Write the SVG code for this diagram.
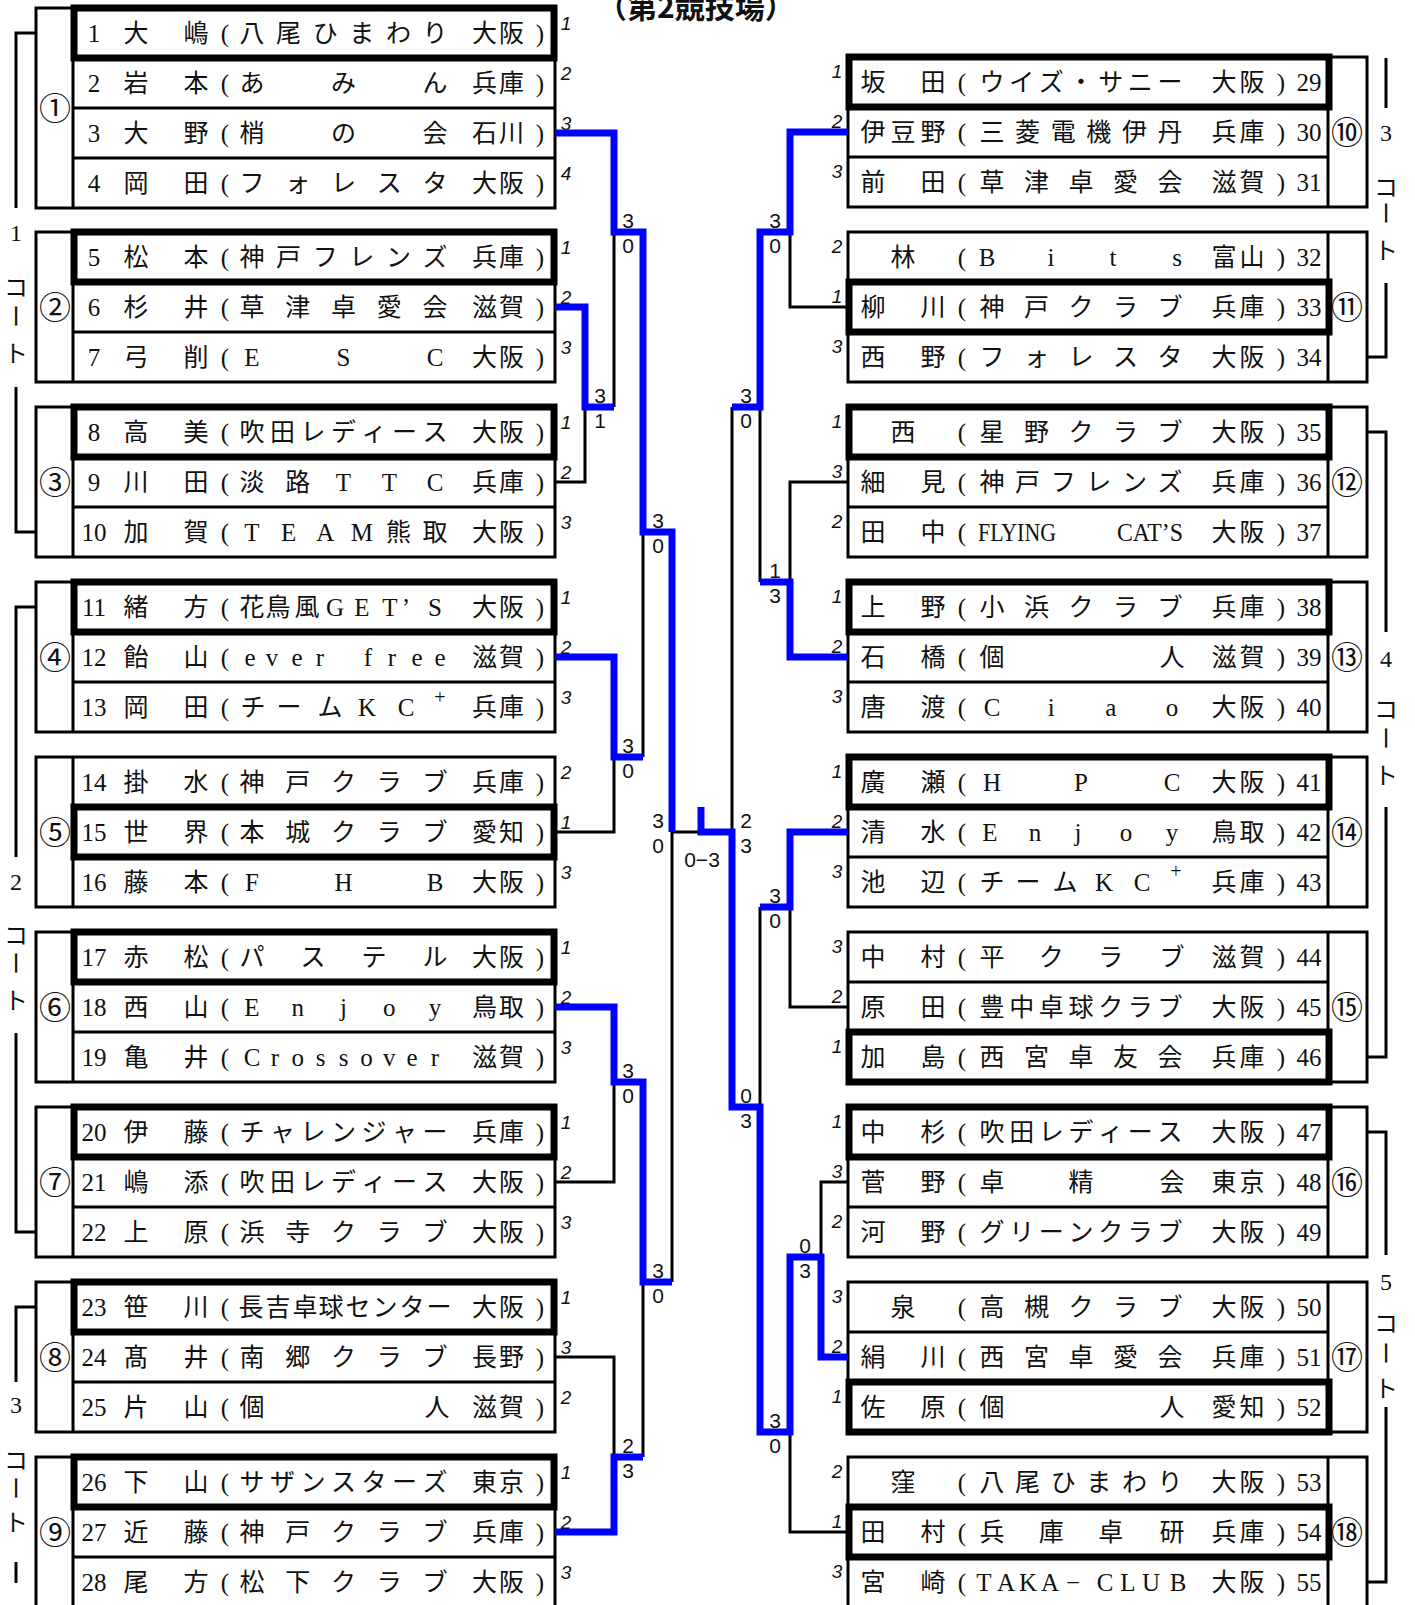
<svg xmlns="http://www.w3.org/2000/svg" width="1415" height="1605" viewBox="0 0 1415 1605">
<style>
.bx{fill:none;stroke:#000;stroke-width:3}
.sd{fill:none;stroke:#000;stroke-width:7}
.ln{fill:none;stroke:#000;stroke-width:3}
.wn{fill:none;stroke:#0000ff;stroke-width:7}
.t{font-family:"Liberation Serif","Noto Sans CJK JP",serif;font-size:25px;fill:#111;text-anchor:middle}
.ct{font-family:"Liberation Serif","Noto Sans CJK JP",serif;font-size:24px;fill:#111;text-anchor:middle}
.rk{font-family:"Liberation Sans",sans-serif;font-size:19px;font-style:italic;fill:#111;text-anchor:middle}
.sc{font-family:"Liberation Sans",sans-serif;font-size:21px;fill:#111;text-anchor:middle}
.cn{font-family:"Noto Sans CJK JP",sans-serif;font-size:32px;fill:#111;text-anchor:middle}
.ti{font-family:"Noto Sans CJK JP",sans-serif;font-size:30px;font-weight:700;fill:#111}
.sp{font-size:20px}
</style>
<rect width="1415" height="1605" fill="#fff"/>
<text class="ti" x="597" y="18">（第2競技場）</text>

<!-- courts -->
<g id="courts">
<path class="ln" d="M36 33H16V208M16 387V532H36"/>
<text class="ct" x="16" y="241">1</text><text class="ct" x="16" y="296">コ</text><text class="ct" transform="translate(16,316) rotate(90)" x="0" y="9">ー</text><text class="ct" x="16" y="362">ト</text>
<path class="ln" d="M36 607H16V857M16 1033V1232H36"/>
<text class="ct" x="16" y="890">2</text><text class="ct" x="16" y="944">コ</text><text class="ct" transform="translate(16,963) rotate(90)" x="0" y="9">ー</text><text class="ct" x="16" y="1009">ト</text>
<path class="ln" d="M36 1307H16V1382M16 1562V1583"/>
<text class="ct" x="16" y="1413">3</text><text class="ct" x="16" y="1469">コ</text><text class="ct" transform="translate(16,1488) rotate(90)" x="0" y="9">ー</text><text class="ct" x="16" y="1531">ト</text>
<path class="ln" d="M1386 58V108M1386 283V357H1367"/>
<text class="ct" x="1386" y="141">3</text><text class="ct" x="1386" y="196">コ</text><text class="ct" transform="translate(1386,213) rotate(90)" x="0" y="9">ー</text><text class="ct" x="1386" y="259">ト</text>
<path class="ln" d="M1367 432H1386V632M1386 807V1057H1367"/>
<text class="ct" x="1386" y="667">4</text><text class="ct" x="1386" y="718">コ</text><text class="ct" transform="translate(1386,738) rotate(90)" x="0" y="9">ー</text><text class="ct" x="1386" y="784">ト</text>
<path class="ln" d="M1367 1132H1386V1255M1386 1407V1582H1367"/>
<text class="ct" x="1386" y="1290">5</text><text class="ct" x="1386" y="1332">コ</text><text class="ct" transform="translate(1386,1353) rotate(90)" x="0" y="9">ー</text><text class="ct" x="1386" y="1397">ト</text>
</g>

<!-- left groups -->
<g id="g1">
<rect class="bx" x="36" y="8" width="519" height="200"/>
<path class="ln" d="M73 8V208M73 58H555M73 108H555M73 158H555"/>
<rect class="sd" x="74" y="8" width="480" height="50"/>
<text class="cn" x="55" y="120">①</text>
<g id="p1"><text class="t" y="42"><tspan x="94">1</tspan><tspan x="136 196">大嶋</tspan><tspan x="225">(</tspan><tspan x="252 288.6 325.2 361.8 398.4 435">八尾ひまわり</tspan><tspan x="484.5 511.5">大阪</tspan><tspan x="540">)</tspan></text><text class="rk" x="566" y="30">1</text></g>
<g id="p2"><text class="t" y="92"><tspan x="94">2</tspan><tspan x="136 196">岩本</tspan><tspan x="225">(</tspan><tspan x="252 343.5 435">あみん</tspan><tspan x="484.5 511.5">兵庫</tspan><tspan x="540">)</tspan></text><text class="rk" x="566" y="80">2</text></g>
<g id="p3"><text class="t" y="142"><tspan x="94">3</tspan><tspan x="136 196">大野</tspan><tspan x="225">(</tspan><tspan x="252 343.5 435">梢の会</tspan><tspan x="484.5 511.5">石川</tspan><tspan x="540">)</tspan></text><text class="rk" x="566" y="130">3</text></g>
<g id="p4"><text class="t" y="192"><tspan x="94">4</tspan><tspan x="136 196">岡田</tspan><tspan x="225">(</tspan><tspan x="252 297.8 343.5 389.3 435">フォレスタ</tspan><tspan x="484.5 511.5">大阪</tspan><tspan x="540">)</tspan></text><text class="rk" x="566" y="180">4</text></g>
</g>

<g id="g2">
<rect class="bx" x="36" y="232" width="519" height="150"/>
<path class="ln" d="M73 232V382M73 282H555M73 332H555"/>
<rect class="sd" x="74" y="232" width="480" height="50"/>
<text class="cn" x="55" y="319">②</text>
<g id="p5"><text class="t" y="266"><tspan x="94">5</tspan><tspan x="136 196">松本</tspan><tspan x="225">(</tspan><tspan x="252 288.6 325.2 361.8 398.4 435">神戸フレンズ</tspan><tspan x="484.5 511.5">兵庫</tspan><tspan x="540">)</tspan></text><text class="rk" x="566" y="254">1</text></g>
<g id="p6"><text class="t" y="316"><tspan x="94">6</tspan><tspan x="136 196">杉井</tspan><tspan x="225">(</tspan><tspan x="252 297.8 343.5 389.3 435">草津卓愛会</tspan><tspan x="484.5 511.5">滋賀</tspan><tspan x="540">)</tspan></text><text class="rk" x="566" y="304">2</text></g>
<g id="p7"><text class="t" y="366"><tspan x="94">7</tspan><tspan x="136 196">弓削</tspan><tspan x="225">(</tspan><tspan x="252 343.5 435">ESC</tspan><tspan x="484.5 511.5">大阪</tspan><tspan x="540">)</tspan></text><text class="rk" x="566" y="354">3</text></g>
</g>

<g id="g3">
<rect class="bx" x="36" y="407" width="519" height="150"/>
<path class="ln" d="M73 407V557M73 457H555M73 507H555"/>
<rect class="sd" x="74" y="407" width="480" height="50"/>
<text class="cn" x="55" y="494">③</text>
<g id="p8"><text class="t" y="441"><tspan x="94">8</tspan><tspan x="136 196">高美</tspan><tspan x="225">(</tspan><tspan x="252 282.5 313 343.5 374 404.5 435">吹田レディース</tspan><tspan x="484.5 511.5">大阪</tspan><tspan x="540">)</tspan></text><text class="rk" x="566" y="429">1</text></g>
<g id="p9"><text class="t" y="491"><tspan x="94">9</tspan><tspan x="136 196">川田</tspan><tspan x="225">(</tspan><tspan x="252 297.8 343.5 389.3 435">淡路TTC</tspan><tspan x="484.5 511.5">兵庫</tspan><tspan x="540">)</tspan></text><text class="rk" x="566" y="479">2</text></g>
<g id="p10"><text class="t" y="541"><tspan x="94">10</tspan><tspan x="136 196">加賀</tspan><tspan x="225">(</tspan><tspan x="252 288.6 325.2 361.8 398.4 435">TEAM熊取</tspan><tspan x="484.5 511.5">大阪</tspan><tspan x="540">)</tspan></text><text class="rk" x="566" y="529">3</text></g>
</g>

<g id="g4">
<rect class="bx" x="36" y="582" width="519" height="150"/>
<path class="ln" d="M73 582V732M73 632H555M73 682H555"/>
<rect class="sd" x="74" y="582" width="480" height="50"/>
<text class="cn" x="55" y="669">④</text>
<g id="p11"><text class="t" y="616"><tspan x="94">11</tspan><tspan x="136 196">緒方</tspan><tspan x="225">(</tspan><tspan x="252 278 307 335 362 390 406 435">花鳥風GET’S</tspan><tspan x="484.5 511.5">大阪</tspan><tspan x="540">)</tspan></text><text class="rk" x="566" y="604">1</text></g>
<g id="p12"><text class="t" y="666"><tspan x="94">12</tspan><tspan x="136 196">飴山</tspan><tspan x="225">(</tspan><tspan x="250 272 297 320 344 368 392 417 440">ever free</tspan><tspan x="484.5 511.5">滋賀</tspan><tspan x="540">)</tspan></text><text class="rk" x="566" y="654">2</text></g>
<g id="p13"><text class="t" y="716"><tspan x="94">13</tspan><tspan x="136 196">岡田</tspan><tspan x="225">(</tspan><tspan x="253 289 330 367 406">チームKC</tspan><tspan class="sp" x="440" y="704">+</tspan><tspan x="484.5 511.5" y="716">兵庫</tspan><tspan x="540">)</tspan></text><text class="rk" x="566" y="704">3</text></g>
</g>

<g id="g5">
<rect class="bx" x="36" y="757" width="519" height="150"/>
<path class="ln" d="M73 757V907M73 807H555M73 857H555"/>
<rect class="sd" x="74" y="807" width="480" height="50"/>
<text class="cn" x="55" y="844">⑤</text>
<g id="p14"><text class="t" y="791"><tspan x="94">14</tspan><tspan x="136 196">掛水</tspan><tspan x="225">(</tspan><tspan x="252 297.8 343.5 389.3 435">神戸クラブ</tspan><tspan x="484.5 511.5">兵庫</tspan><tspan x="540">)</tspan></text><text class="rk" x="566" y="779">2</text></g>
<g id="p15"><text class="t" y="841"><tspan x="94">15</tspan><tspan x="136 196">世界</tspan><tspan x="225">(</tspan><tspan x="252 297.8 343.5 389.3 435">本城クラブ</tspan><tspan x="484.5 511.5">愛知</tspan><tspan x="540">)</tspan></text><text class="rk" x="566" y="829">1</text></g>
<g id="p16"><text class="t" y="891"><tspan x="94">16</tspan><tspan x="136 196">藤本</tspan><tspan x="225">(</tspan><tspan x="252 343.5 435">FHB</tspan><tspan x="484.5 511.5">大阪</tspan><tspan x="540">)</tspan></text><text class="rk" x="566" y="879">3</text></g>
</g>

<g id="g6">
<rect class="bx" x="36" y="932" width="519" height="150"/>
<path class="ln" d="M73 932V1082M73 982H555M73 1032H555"/>
<rect class="sd" x="74" y="932" width="480" height="50"/>
<text class="cn" x="55" y="1019">⑥</text>
<g id="p17"><text class="t" y="966"><tspan x="94">17</tspan><tspan x="136 196">赤松</tspan><tspan x="225">(</tspan><tspan x="252 313 374 435">パステル</tspan><tspan x="484.5 511.5">大阪</tspan><tspan x="540">)</tspan></text><text class="rk" x="566" y="954">1</text></g>
<g id="p18"><text class="t" y="1016"><tspan x="94">18</tspan><tspan x="136 196">西山</tspan><tspan x="225">(</tspan><tspan x="252 297.8 343.5 389.3 435">Enjoy</tspan><tspan x="484.5 511.5">鳥取</tspan><tspan x="540">)</tspan></text><text class="rk" x="566" y="1004">2</text></g>
<g id="p19"><text class="t" y="1066"><tspan x="94">19</tspan><tspan x="136 196">亀井</tspan><tspan x="225">(</tspan><tspan x="252 274.9 297.8 320.6 343.5 366.4 389.3 412.1 435">Crossover</tspan><tspan x="484.5 511.5">滋賀</tspan><tspan x="540">)</tspan></text><text class="rk" x="566" y="1054">3</text></g>
</g>

<g id="g7">
<rect class="bx" x="36" y="1107" width="519" height="150"/>
<path class="ln" d="M73 1107V1257M73 1157H555M73 1207H555"/>
<rect class="sd" x="74" y="1107" width="480" height="50"/>
<text class="cn" x="55" y="1194">⑦</text>
<g id="p20"><text class="t" y="1141"><tspan x="94">20</tspan><tspan x="136 196">伊藤</tspan><tspan x="225">(</tspan><tspan x="252 282.5 313 343.5 374 404.5 435">チャレンジャー</tspan><tspan x="484.5 511.5">兵庫</tspan><tspan x="540">)</tspan></text><text class="rk" x="566" y="1129">1</text></g>
<g id="p21"><text class="t" y="1191"><tspan x="94">21</tspan><tspan x="136 196">嶋添</tspan><tspan x="225">(</tspan><tspan x="252 282.5 313 343.5 374 404.5 435">吹田レディース</tspan><tspan x="484.5 511.5">大阪</tspan><tspan x="540">)</tspan></text><text class="rk" x="566" y="1179">2</text></g>
<g id="p22"><text class="t" y="1241"><tspan x="94">22</tspan><tspan x="136 196">上原</tspan><tspan x="225">(</tspan><tspan x="252 297.8 343.5 389.3 435">浜寺クラブ</tspan><tspan x="484.5 511.5">大阪</tspan><tspan x="540">)</tspan></text><text class="rk" x="566" y="1229">3</text></g>
</g>

<g id="g8">
<rect class="bx" x="36" y="1282" width="519" height="150"/>
<path class="ln" d="M73 1282V1432M73 1332H555M73 1382H555"/>
<rect class="sd" x="74" y="1282" width="480" height="50"/>
<text class="cn" x="55" y="1369">⑧</text>
<g id="p23"><text class="t" y="1316"><tspan x="94">23</tspan><tspan x="136 196">笹川</tspan><tspan x="225">(</tspan><tspan x="251 278 305 331 358 385 412 439">長吉卓球センター</tspan><tspan x="484.5 511.5">大阪</tspan><tspan x="540">)</tspan></text><text class="rk" x="566" y="1304">1</text></g>
<g id="p24"><text class="t" y="1366"><tspan x="94">24</tspan><tspan x="136 196">髙井</tspan><tspan x="225">(</tspan><tspan x="252 297.8 343.5 389.3 435">南郷クラブ</tspan><tspan x="484.5 511.5">長野</tspan><tspan x="540">)</tspan></text><text class="rk" x="566" y="1354">3</text></g>
<g id="p25"><text class="t" y="1416"><tspan x="94">25</tspan><tspan x="136 196">片山</tspan><tspan x="225">(</tspan><tspan x="252 437">個人</tspan><tspan x="484.5 511.5">滋賀</tspan><tspan x="540">)</tspan></text><text class="rk" x="566" y="1404">2</text></g>
</g>

<g id="g9">
<rect class="bx" x="36" y="1457" width="519" height="150"/>
<path class="ln" d="M73 1457V1607M73 1507H555M73 1557H555"/>
<rect class="sd" x="74" y="1457" width="480" height="50"/>
<text class="cn" x="55" y="1544">⑨</text>
<g id="p26"><text class="t" y="1491"><tspan x="94">26</tspan><tspan x="136 196">下山</tspan><tspan x="225">(</tspan><tspan x="252 282.5 313 343.5 374 404.5 435">サザンスターズ</tspan><tspan x="484.5 511.5">東京</tspan><tspan x="540">)</tspan></text><text class="rk" x="566" y="1479">1</text></g>
<g id="p27"><text class="t" y="1541"><tspan x="94">27</tspan><tspan x="136 196">近藤</tspan><tspan x="225">(</tspan><tspan x="252 297.8 343.5 389.3 435">神戸クラブ</tspan><tspan x="484.5 511.5">兵庫</tspan><tspan x="540">)</tspan></text><text class="rk" x="566" y="1529">2</text></g>
<g id="p28"><text class="t" y="1591"><tspan x="94">28</tspan><tspan x="136 196">尾方</tspan><tspan x="225">(</tspan><tspan x="252 297.8 343.5 389.3 435">松下クラブ</tspan><tspan x="484.5 511.5">大阪</tspan><tspan x="540">)</tspan></text><text class="rk" x="566" y="1579">3</text></g>
</g>

<!-- right groups -->
<g id="g10">
<rect class="bx" x="848" y="57" width="519" height="150"/>
<path class="ln" d="M1328 57V207M848 107H1328M848 157H1328"/>
<rect class="sd" x="849" y="57" width="480" height="50"/>
<text class="cn" x="1347" y="144">⑩</text>
<g id="p29"><text class="t" y="91"><tspan x="873 933">坂田</tspan><tspan x="962">(</tspan><tspan x="992 1021.7 1051.3 1081 1110.7 1140.3 1170">ウイズ・サニー</tspan><tspan x="1224 1252">大阪</tspan><tspan x="1281">)</tspan><tspan x="1309">29</tspan></text><text class="rk" x="837" y="78">1</text></g>
<g id="p30"><text class="t" y="141"><tspan x="873 903 933">伊豆野</tspan><tspan x="962">(</tspan><tspan x="992 1027.6 1063.2 1098.8 1134.4 1170">三菱電機伊丹</tspan><tspan x="1224 1252">兵庫</tspan><tspan x="1281">)</tspan><tspan x="1309">30</tspan></text><text class="rk" x="837" y="128">2</text></g>
<g id="p31"><text class="t" y="191"><tspan x="873 933">前田</tspan><tspan x="962">(</tspan><tspan x="992 1036.5 1081 1125.5 1170">草津卓愛会</tspan><tspan x="1224 1252">滋賀</tspan><tspan x="1281">)</tspan><tspan x="1309">31</tspan></text><text class="rk" x="837" y="178">3</text></g>
</g>

<g id="g11">
<rect class="bx" x="848" y="232" width="519" height="150"/>
<path class="ln" d="M1328 232V382M848 282H1328M848 332H1328"/>
<rect class="sd" x="849" y="282" width="480" height="50"/>
<text class="cn" x="1347" y="319">⑪</text>
<g id="p32"><text class="t" y="266"><tspan x="903">林</tspan><tspan x="962">(</tspan><tspan x="987 1051 1113 1177">Bits</tspan><tspan x="1224 1252">富山</tspan><tspan x="1281">)</tspan><tspan x="1309">32</tspan></text><text class="rk" x="837" y="253">2</text></g>
<g id="p33"><text class="t" y="316"><tspan x="873 933">柳川</tspan><tspan x="962">(</tspan><tspan x="992 1036.5 1081 1125.5 1170">神戸クラブ</tspan><tspan x="1224 1252">兵庫</tspan><tspan x="1281">)</tspan><tspan x="1309">33</tspan></text><text class="rk" x="837" y="303">1</text></g>
<g id="p34"><text class="t" y="366"><tspan x="873 933">西野</tspan><tspan x="962">(</tspan><tspan x="992 1036.5 1081 1125.5 1170">フォレスタ</tspan><tspan x="1224 1252">大阪</tspan><tspan x="1281">)</tspan><tspan x="1309">34</tspan></text><text class="rk" x="837" y="353">3</text></g>
</g>

<g id="g12">
<rect class="bx" x="848" y="407" width="519" height="150"/>
<path class="ln" d="M1328 407V557M848 457H1328M848 507H1328"/>
<rect class="sd" x="849" y="407" width="480" height="50"/>
<text class="cn" x="1347" y="494">⑫</text>
<g id="p35"><text class="t" y="441"><tspan x="903">西</tspan><tspan x="962">(</tspan><tspan x="992 1036.5 1081 1125.5 1170">星野クラブ</tspan><tspan x="1224 1252">大阪</tspan><tspan x="1281">)</tspan><tspan x="1309">35</tspan></text><text class="rk" x="837" y="428">1</text></g>
<g id="p36"><text class="t" y="491"><tspan x="873 933">細見</tspan><tspan x="962">(</tspan><tspan x="992 1027.6 1063.2 1098.8 1134.4 1170">神戸フレンズ</tspan><tspan x="1224 1252">兵庫</tspan><tspan x="1281">)</tspan><tspan x="1309">36</tspan></text><text class="rk" x="837" y="478">3</text></g>
<g id="p37"><text class="t" y="541"><tspan x="873 933">田中</tspan><tspan x="962">(</tspan><tspan x="1224 1252">大阪</tspan><tspan x="1281">)</tspan><tspan x="1309">37</tspan></text><text class="t" x="1017" y="541" textLength="78" lengthAdjust="spacingAndGlyphs">FLYING</text><text class="t" x="1150" y="541" textLength="66" lengthAdjust="spacingAndGlyphs">CAT’S</text><text class="rk" x="837" y="528">2</text></g>
</g>

<g id="g13">
<rect class="bx" x="848" y="582" width="519" height="150"/>
<path class="ln" d="M1328 582V732M848 632H1328M848 682H1328"/>
<rect class="sd" x="849" y="582" width="480" height="50"/>
<text class="cn" x="1347" y="669">⑬</text>
<g id="p38"><text class="t" y="616"><tspan x="873 933">上野</tspan><tspan x="962">(</tspan><tspan x="992 1036.5 1081 1125.5 1170">小浜クラブ</tspan><tspan x="1224 1252">兵庫</tspan><tspan x="1281">)</tspan><tspan x="1309">38</tspan></text><text class="rk" x="837" y="603">1</text></g>
<g id="p39"><text class="t" y="666"><tspan x="873 933">石橋</tspan><tspan x="962">(</tspan><tspan x="992 1172">個人</tspan><tspan x="1224 1252">滋賀</tspan><tspan x="1281">)</tspan><tspan x="1309">39</tspan></text><text class="rk" x="837" y="653">2</text></g>
<g id="p40"><text class="t" y="716"><tspan x="873 933">唐渡</tspan><tspan x="962">(</tspan><tspan x="992 1051.3 1110.7 1172">Ciao</tspan><tspan x="1224 1252">大阪</tspan><tspan x="1281">)</tspan><tspan x="1309">40</tspan></text><text class="rk" x="837" y="703">3</text></g>
</g>

<g id="g14">
<rect class="bx" x="848" y="757" width="519" height="150"/>
<path class="ln" d="M1328 757V907M848 807H1328M848 857H1328"/>
<rect class="sd" x="849" y="757" width="480" height="50"/>
<text class="cn" x="1347" y="844">⑭</text>
<g id="p41"><text class="t" y="791"><tspan x="873 933">廣瀬</tspan><tspan x="962">(</tspan><tspan x="992 1081 1172">HPC</tspan><tspan x="1224 1252">大阪</tspan><tspan x="1281">)</tspan><tspan x="1309">41</tspan></text><text class="rk" x="837" y="778">1</text></g>
<g id="p42"><text class="t" y="841"><tspan x="873 933">清水</tspan><tspan x="962">(</tspan><tspan x="990 1035 1078 1126 1172">Enjoy</tspan><tspan x="1224 1252">鳥取</tspan><tspan x="1281">)</tspan><tspan x="1309">42</tspan></text><text class="rk" x="837" y="828">2</text></g>
<g id="p43"><text class="t" y="891"><tspan x="873 933">池辺</tspan><tspan x="962">(</tspan><tspan x="992 1028 1065 1104 1142">チームKC</tspan><tspan class="sp" x="1176" y="878">+</tspan><tspan x="1224 1252" y="891">兵庫</tspan><tspan x="1281">)</tspan><tspan x="1309">43</tspan></text><text class="rk" x="837" y="878">3</text></g>
</g>

<g id="g15">
<rect class="bx" x="848" y="932" width="519" height="150"/>
<path class="ln" d="M1328 932V1082M848 982H1328M848 1032H1328"/>
<rect class="sd" x="849" y="1032" width="480" height="50"/>
<text class="cn" x="1347" y="1019">⑮</text>
<g id="p44"><text class="t" y="966"><tspan x="873 933">中村</tspan><tspan x="962">(</tspan><tspan x="992 1051.3 1110.7 1172">平クラブ</tspan><tspan x="1224 1252">滋賀</tspan><tspan x="1281">)</tspan><tspan x="1309">44</tspan></text><text class="rk" x="837" y="953">3</text></g>
<g id="p45"><text class="t" y="1016"><tspan x="873 933">原田</tspan><tspan x="962">(</tspan><tspan x="992 1021.7 1051.3 1081 1110.7 1140.3 1170">豊中卓球クラブ</tspan><tspan x="1224 1252">大阪</tspan><tspan x="1281">)</tspan><tspan x="1309">45</tspan></text><text class="rk" x="837" y="1003">2</text></g>
<g id="p46"><text class="t" y="1066"><tspan x="873 933">加島</tspan><tspan x="962">(</tspan><tspan x="992 1036.5 1081 1125.5 1170">西宮卓友会</tspan><tspan x="1224 1252">兵庫</tspan><tspan x="1281">)</tspan><tspan x="1309">46</tspan></text><text class="rk" x="837" y="1053">1</text></g>
</g>

<g id="g16">
<rect class="bx" x="848" y="1107" width="519" height="150"/>
<path class="ln" d="M1328 1107V1257M848 1157H1328M848 1207H1328"/>
<rect class="sd" x="849" y="1107" width="480" height="50"/>
<text class="cn" x="1347" y="1194">⑯</text>
<g id="p47"><text class="t" y="1141"><tspan x="873 933">中杉</tspan><tspan x="962">(</tspan><tspan x="992 1021.7 1051.3 1081 1110.7 1140.3 1170">吹田レディース</tspan><tspan x="1224 1252">大阪</tspan><tspan x="1281">)</tspan><tspan x="1309">47</tspan></text><text class="rk" x="837" y="1128">1</text></g>
<g id="p48"><text class="t" y="1191"><tspan x="873 933">菅野</tspan><tspan x="962">(</tspan><tspan x="992 1081 1172">卓精会</tspan><tspan x="1224 1252">東京</tspan><tspan x="1281">)</tspan><tspan x="1309">48</tspan></text><text class="rk" x="837" y="1178">3</text></g>
<g id="p49"><text class="t" y="1241"><tspan x="873 933">河野</tspan><tspan x="962">(</tspan><tspan x="992 1021.7 1051.3 1081 1110.7 1140.3 1170">グリーンクラブ</tspan><tspan x="1224 1252">大阪</tspan><tspan x="1281">)</tspan><tspan x="1309">49</tspan></text><text class="rk" x="837" y="1228">2</text></g>
</g>

<g id="g17">
<rect class="bx" x="848" y="1282" width="519" height="150"/>
<path class="ln" d="M1328 1282V1432M848 1332H1328M848 1382H1328"/>
<rect class="sd" x="849" y="1382" width="480" height="50"/>
<text class="cn" x="1347" y="1369">⑰</text>
<g id="p50"><text class="t" y="1316"><tspan x="903">泉</tspan><tspan x="962">(</tspan><tspan x="992 1036.5 1081 1125.5 1170">高槻クラブ</tspan><tspan x="1224 1252">大阪</tspan><tspan x="1281">)</tspan><tspan x="1309">50</tspan></text><text class="rk" x="837" y="1303">3</text></g>
<g id="p51"><text class="t" y="1366"><tspan x="873 933">絹川</tspan><tspan x="962">(</tspan><tspan x="992 1036.5 1081 1125.5 1170">西宮卓愛会</tspan><tspan x="1224 1252">兵庫</tspan><tspan x="1281">)</tspan><tspan x="1309">51</tspan></text><text class="rk" x="837" y="1353">2</text></g>
<g id="p52"><text class="t" y="1416"><tspan x="873 933">佐原</tspan><tspan x="962">(</tspan><tspan x="992 1172">個人</tspan><tspan x="1224 1252">愛知</tspan><tspan x="1281">)</tspan><tspan x="1309">52</tspan></text><text class="rk" x="837" y="1403">1</text></g>
</g>

<g id="g18">
<rect class="bx" x="848" y="1457" width="519" height="150"/>
<path class="ln" d="M1328 1457V1607M848 1507H1328M848 1557H1328"/>
<rect class="sd" x="849" y="1507" width="480" height="50"/>
<text class="cn" x="1347" y="1544">⑱</text>
<g id="p53"><text class="t" y="1491"><tspan x="903">窪</tspan><tspan x="962">(</tspan><tspan x="992 1027.6 1063.2 1098.8 1134.4 1170">八尾ひまわり</tspan><tspan x="1224 1252">大阪</tspan><tspan x="1281">)</tspan><tspan x="1309">53</tspan></text><text class="rk" x="837" y="1478">2</text></g>
<g id="p54"><text class="t" y="1541"><tspan x="873 933">田村</tspan><tspan x="962">(</tspan><tspan x="992 1051.3 1110.7 1172">兵庫卓研</tspan><tspan x="1224 1252">兵庫</tspan><tspan x="1281">)</tspan><tspan x="1309">54</tspan></text><text class="rk" x="837" y="1528">1</text></g>
<g id="p55"><text class="t" y="1591"><tspan x="873 933">宮崎</tspan><tspan x="962">(</tspan><tspan x="984 1006 1028 1050 1073 1105 1128 1151 1178">TAKA−CLUB</tspan><tspan x="1224 1252">大阪</tspan><tspan x="1281">)</tspan><tspan x="1309">55</tspan></text><text class="rk" x="837" y="1578">3</text></g>
</g>

<!-- connectors -->
<g id="connectors">
<path class="ln" d="M614 232V407M555 482H585V407M643 532V757M555 832H614V757M672 832V1282M555 1182H614V1082M643 1282V1457M555 1357H614V1457M672 832H698"/>
<path class="ln" d="M848 307H790V232M848 482H790V582M760 582V407M732 407V832M848 1007H790V907M760 907V1107M848 1182H821V1257M848 1532H790V1432"/>
<path class="wn" d="M555 133H614V232H643V532H672V832"/>
<path class="wn" d="M555 307H585V407H614"/>
<path class="wn" d="M555 657H614V757H643"/>
<path class="wn" d="M555 1007H614V1082H643V1282H672"/>
<path class="wn" d="M555 1532H614V1457H643"/>
<path class="wn" d="M848 132H790V232H760V407H732"/>
<path class="wn" d="M848 657H790V582H760"/>
<path class="wn" d="M848 832H790V907H760"/>
<path class="wn" d="M848 1357H821V1257H790V1432H760V1107H732V832H701V807"/>
</g>

<g id="scores">
<text class="sc" x="600" y="403">3</text><text class="sc" x="600" y="428">1</text>
<text class="sc" x="628" y="228">3</text><text class="sc" x="628" y="253">0</text>
<text class="sc" x="658" y="528">3</text><text class="sc" x="658" y="553">0</text>
<text class="sc" x="628" y="753">3</text><text class="sc" x="628" y="778">0</text>
<text class="sc" x="658" y="828">3</text><text class="sc" x="658" y="853">0</text>
<text class="sc" x="628" y="1078">3</text><text class="sc" x="628" y="1103">0</text>
<text class="sc" x="658" y="1278">3</text><text class="sc" x="658" y="1303">0</text>
<text class="sc" x="628" y="1453">2</text><text class="sc" x="628" y="1478">3</text>
<text class="sc" x="775" y="228">3</text><text class="sc" x="775" y="253">0</text>
<text class="sc" x="775" y="578">1</text><text class="sc" x="775" y="603">3</text>
<text class="sc" x="746" y="403">3</text><text class="sc" x="746" y="428">0</text>
<text class="sc" x="775" y="903">3</text><text class="sc" x="775" y="928">0</text>
<text class="sc" x="805" y="1253">0</text><text class="sc" x="805" y="1278">3</text>
<text class="sc" x="775" y="1428">3</text><text class="sc" x="775" y="1453">0</text>
<text class="sc" x="746" y="1103">0</text><text class="sc" x="746" y="1128">3</text>
<text class="sc" x="746" y="828">2</text><text class="sc" x="746" y="853">3</text>
<text class="sc" x="702" y="867">0−3</text>
</g>
</svg>
